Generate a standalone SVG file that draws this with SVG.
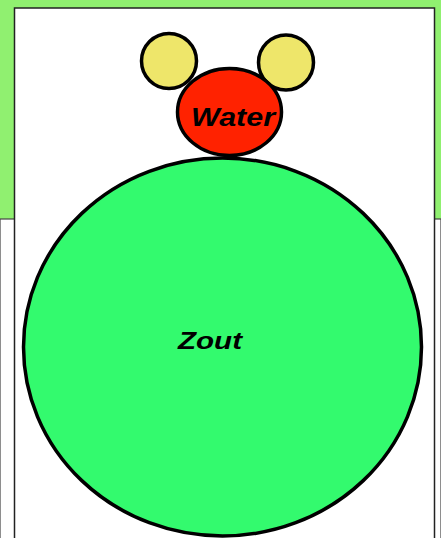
<svg xmlns="http://www.w3.org/2000/svg" width="441" height="538" viewBox="0 0 441 538">
<style>
.shape{stroke:#000;stroke-width:3.5}
.lbl{font-family:"Liberation Sans","DejaVu Sans",sans-serif;font-style:italic;font-weight:bold;fill:#000;text-anchor:middle}
</style>
<rect x="0" y="0" width="441" height="219" fill="#90F070"/>
<rect x="0" y="219" width="441" height="330" fill="#fff" stroke="#444" stroke-width="1.2"/>
<rect x="14.5" y="8" width="420" height="540" fill="#fff" stroke="#222" stroke-width="1.5"/>
<g id="connectors"></g>
<g id="ear-left"><circle class="shape" cx="169" cy="61" r="27.5" fill="#EEE66A"/></g>
<g id="ear-right"><circle class="shape" cx="286" cy="62.5" r="27.5" fill="#EEE66A"/></g>
<g id="water"><ellipse class="shape" cx="229.5" cy="112" rx="52" ry="43.5" fill="#FF2200"/>
<text class="lbl" x="233" y="126" font-size="26" textLength="84" lengthAdjust="spacingAndGlyphs">Water</text></g>
<g id="zout"><ellipse class="shape" cx="222.5" cy="347" rx="199" ry="189" fill="#33FA6E"/>
<text class="lbl" x="210" y="349" font-size="24" textLength="64" lengthAdjust="spacingAndGlyphs">Zout</text></g>
</svg>
